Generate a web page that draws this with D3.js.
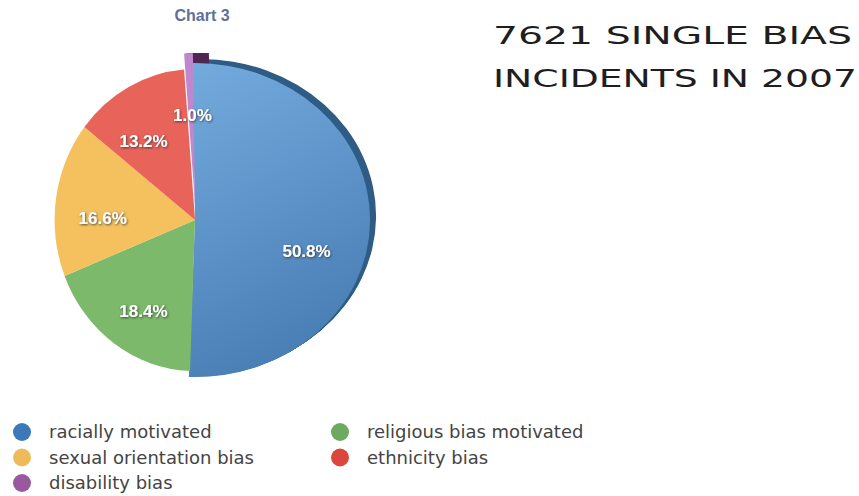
<!DOCTYPE html>
<html>
<head>
<meta charset="utf-8">
<script src="https://cdn.jsdelivr.net/npm/d3@7"></script>
<style>
  body { margin: 0; background: #fff; }
  svg { display: block; }
</style>
</head>
<body>
<svg></svg>
<script>
// data
const categories = ["racially motivated", "religious bias motivated", "sexual orientation bias", "ethnicity bias", "disability bias"];
const shares = [50.8, 18.4, 16.6, 13.2, 1.0];
const sliceColors = ["#5f96cd", "#7cb96a", "#f4c15e", "#e8635a", "#bf87cd"];
const legendColors = ["#3b79b8", "#6daa5f", "#eebb5a", "#d9473e", "#98599f"];
const pieOrder = [0, 1, 2, 3, 4];
const legendOrder = [0, 1, 2, 3, 4];
const titleLines = ["7621 SINGLE BIAS", "INCIDENTS IN 2007"];

const width = 859, height = 496;
const svg = d3.select("svg").attr("width", width).attr("height", height);
const cx = 195, cy = 220;

const defs = svg.append("defs");
const grad = defs.append("linearGradient").attr("id", "blueGrad")
  .attr("x1", 0).attr("y1", 0).attr("x2", 0.3).attr("y2", 1);
grad.append("stop").attr("offset", "0%").attr("stop-color", "#74abde");
grad.append("stop").attr("offset", "100%").attr("stop-color", "#4a7fb6");

const shadow = defs.append("filter").attr("id", "txtShadow")
  .attr("x", "-20%").attr("y", "-40%").attr("width", "140%").attr("height", "180%");
shadow.append("feDropShadow").attr("dx", 0.8).attr("dy", 1).attr("stdDeviation", 1)
  .attr("flood-color", "#333").attr("flood-opacity", 0.85);

// title
svg.append("text")
  .attr("x", 202).attr("y", 21)
  .attr("text-anchor", "middle")
  .attr("font-family", "Liberation Sans, Arial, sans-serif")
  .attr("font-weight", "bold").attr("font-size", 16)
  .attr("fill", "#5f6e9c")
  .text("Chart 3");

// pie, turned a little so the big slice ends near the bottom
const start = -0.015;
const pie = d3.pie().sort(null).value(d => d.v)
  .startAngle(start).endAngle(start + 2 * Math.PI);
const arcs = pie(pieOrder.map(i => ({ i, v: shares[i] })));

// per slice shape: radius, x stretch, explode offset
const sliceR = d => d.data.i === 0 ? 157 : 151;
const sliceSx = d => d.data.i === 0 ? 1.115 : 0.93;
const sliceDy = d => d.data.i === 4 ? -16 : 0;

const arc = d3.arc().innerRadius(0).outerRadius(d => sliceR(d));
const g = svg.append("g").attr("transform", `translate(${cx},${cy})`);

// extruded dark sides
const depth = [
  { i: 0, color: "#2e5c84", dx: 6, dy: -4 },
  { i: 4, color: "#4f2753", dx: 16, dy: 0 }
];
depth.forEach(dp => {
  const a = arcs.find(d => d.data.i === dp.i);
  d3.range(1, 9).forEach(k => {
    g.append("path")
      .attr("d", arc(a))
      .attr("fill", dp.color)
      .attr("transform", `translate(${dp.dx * k / 8},${sliceDy(a) + dp.dy * k / 8}) scale(${sliceSx(a)},1)`);
  });
});

g.selectAll("path.slice")
  .data(arcs)
  .join("path")
  .attr("class", "slice")
  .attr("d", arc)
  .attr("fill", d => d.data.i === 0 ? "url(#blueGrad)" : sliceColors[d.data.i])
  .attr("transform", d => `translate(0,${sliceDy(d)}) scale(${sliceSx(d)},1)`);

// labels
const labelNudge = [[-11, 30], [5, 4], [5, 13], [-5, 14], [2, 0]];
g.selectAll("text.pct")
  .data(arcs)
  .join("text")
  .attr("class", "pct")
  .attr("transform", d => {
    const r = sliceR(d) * 0.7;
    const c = d3.arc().innerRadius(r).outerRadius(r).centroid(d);
    const n = labelNudge[d.data.i];
    return `translate(${c[0] * sliceSx(d) + n[0]},${c[1] + n[1]})`;
  })
  .attr("text-anchor", "middle")
  .attr("dy", "0.36em")
  .attr("font-family", "Liberation Sans, Arial, sans-serif")
  .attr("font-weight", "bold").attr("font-size", 17)
  .attr("fill", "#fff")
  .attr("filter", "url(#txtShadow)")
  .text(d => d3.format(".1f")(d.data.v) + "%");

// handwritten heading
const head = svg.append("g");
titleLines.forEach((t, k) => {
  head.append("text")
    .attr("x", 493).attr("y", 44 + k * 43)
    .attr("font-family", "DejaVu Sans, sans-serif")
    .attr("font-size", 25)
    .attr("fill", "#1e1e1e")
    .attr("textLength", k === 0 ? 359 : 364)
    .attr("lengthAdjust", "spacingAndGlyphs")
    .text(t);
});

// legend
const legend = svg.append("g");
legendOrder.forEach((i, k) => {
  const col = k % 2, row = Math.floor(k / 2);
  const lx = col === 0 ? 22 : 340;
  const ly = 432 + row * 25.5;
  legend.append("circle").attr("cx", lx).attr("cy", ly).attr("r", 9).attr("fill", legendColors[i]);
  legend.append("text")
    .attr("x", lx + 27).attr("y", ly)
    .attr("dy", "0.35em")
    .attr("font-family", "DejaVu Sans, sans-serif")
    .attr("font-size", 18)
    .attr("fill", "#444")
    .text(categories[i]);
});
</script>
</body>
</html>
